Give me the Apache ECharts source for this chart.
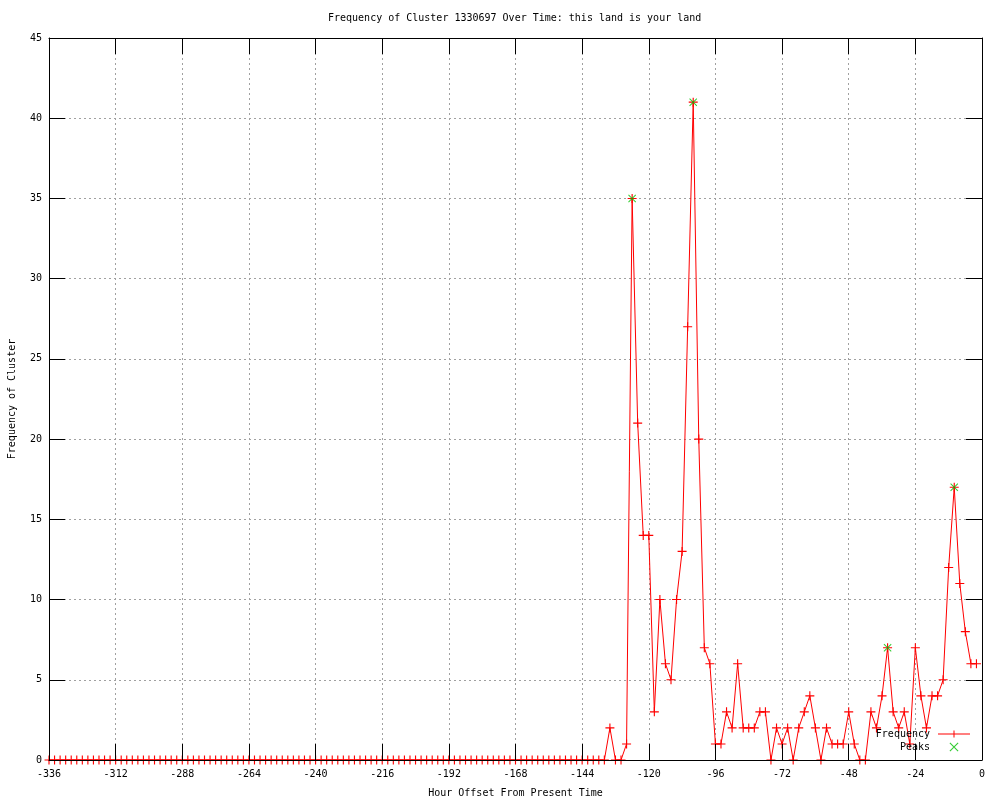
<!DOCTYPE html>
<html>
<head>
<meta charset="utf-8">
<script src="https://cdn.jsdelivr.net/npm/echarts@6/dist/echarts.min.js"></script>
<style>html,body{margin:0;padding:0;background:#fff}#c{width:1000px;height:800px}</style>
</head>
<body>
<div id="c"></div>
<script>
const hours = [-336,-334,-332,-330,-328,-326,-324,-322,-320,-318,-316,-314,-312,-310,-308,-306,-304,-302,-300,-298,-296,-294,-292,-290,-288,-286,-284,-282,-280,-278,-276,-274,-272,-270,-268,-266,-264,-262,-260,-258,-256,-254,-252,-250,-248,-246,-244,-242,-240,-238,-236,-234,-232,-230,-228,-226,-224,-222,-220,-218,-216,-214,-212,-210,-208,-206,-204,-202,-200,-198,-196,-194,-192,-190,-188,-186,-184,-182,-180,-178,-176,-174,-172,-170,-168,-166,-164,-162,-160,-158,-156,-154,-152,-150,-148,-146,-144,-142,-140,-138,-136,-134,-132,-130,-128,-126,-124,-122,-120,-118,-116,-114,-112,-110,-108,-106,-104,-102,-100,-98,-96,-94,-92,-90,-88,-86,-84,-82,-80,-78,-76,-74,-72,-70,-68,-66,-64,-62,-60,-58,-56,-54,-52,-50,-48,-46,-44,-42,-40,-38,-36,-34,-32,-30,-28,-26,-24,-22,-20,-18,-16,-14,-12,-10,-8,-6,-4,-2];
const frequency = [0,0,0,0,0,0,0,0,0,0,0,0,0,0,0,0,0,0,0,0,0,0,0,0,0,0,0,0,0,0,0,0,0,0,0,0,0,0,0,0,0,0,0,0,0,0,0,0,0,0,0,0,0,0,0,0,0,0,0,0,0,0,0,0,0,0,0,0,0,0,0,0,0,0,0,0,0,0,0,0,0,0,0,0,0,0,0,0,0,0,0,0,0,0,0,0,0,0,0,0,0,
2,0,0,1,35,21,14,14,3,10,6,5,10,13,27,41,20,7,6,1,1,3,2,6,2,2,2,3,3,0,2,1,2,0,2,3,4,2,0,2,1,1,1,3,1,0,0,3,2,4,7,3,2,3,1,7,4,2,4,4,5,12,17,11,8,6,6];
const peakHours = [-126,-104,-34,-10];
const peakValues = [35,41,7,17];
const xTicks = {min:-336, max:0, interval:24};
const yTicks = {min:0, max:45, interval:5};

const FONT = 'DejaVu Sans Mono';
const plusPath = 'path://M0,3.5H8V4.5H0Z M3.5,0H4.5V8H3.5Z';
const xPath = 'path://M0,0.7L0.7,0L8,7.3L7.3,8Z M7.3,0L8,0.7L0.7,8L0,7.3Z';
const legendLinePath = 'path://M0,4H32V5H0Z M15.5,1H16.5V8H15.5Z';

const freqData = hours.map((h,i)=>[h, frequency[i]]);
const peakData = peakHours.map((h,i)=>[h, peakValues[i]]);

const chart = echarts.init(document.getElementById('c'), null, {renderer:'canvas'});
const dash = {color:'#a0a0a0', type:[2,3], width:1};
const line = {show:true, onZero:false, lineStyle:{color:'#000', width:1}};
const tick = {show:true, inside:true, length:16, lineStyle:{color:'#000'}};
chart.setOption({
  animation:false,
  backgroundColor:'#fff',
  textStyle:{fontFamily:FONT, color:'#000'},
  title:{
    text:'Frequency of Cluster 1330697 Over Time: this land is your land',
    left:323, top:8,
    textStyle:{fontFamily:FONT, fontSize:10, fontWeight:'normal', color:'#000'}
  },
  legend:{
    orient:'vertical', right:30, top:729, padding:0, itemGap:3,
    align:'right', itemWidth:32, itemHeight:9,
    textStyle:{fontFamily:FONT, fontSize:10, color:'#000', padding:[0,3,0,0]},
    data:[{name:'Frequency', icon:legendLinePath, itemStyle:{color:'#ff0000'}},
          {name:'Peaks', icon:xPath, itemStyle:{color:'#00c000'}}]
  },
  grid:{left:49, right:18, top:38, bottom:40, containLabel:false, outerBoundsMode:'none'},
  xAxis:[
    {type:'value', position:'bottom', min:xTicks.min, max:xTicks.max, interval:xTicks.interval, z:5,
     name:'Hour Offset From Present Time', nameLocation:'middle', nameGap:28,
     nameTextStyle:{fontFamily:FONT, fontSize:10, color:'#000'},
     axisLine:line, axisTick:tick,
     axisLabel:{show:true, fontFamily:FONT, fontSize:10, color:'#000', margin:9},
     splitLine:{show:false}},
    {type:'value', position:'top', min:xTicks.min, max:xTicks.max, interval:xTicks.interval,
     axisLine:line, axisTick:tick,
     axisLabel:{show:false},
     splitLine:{show:true, lineStyle:dash}}
  ],
  yAxis:[
    {type:'value', position:'left', min:yTicks.min, max:yTicks.max, interval:yTicks.interval,
     name:'Frequency of Cluster', nameLocation:'middle', nameGap:32, nameRotate:90,
     nameTextStyle:{fontFamily:FONT, fontSize:10, color:'#000'},
     axisLine:line, axisTick:tick,
     axisLabel:{show:true, fontFamily:FONT, fontSize:10, color:'#000', margin:7},
     splitLine:{show:true, lineStyle:dash}},
    {type:'value', position:'right', min:yTicks.min, max:yTicks.max, interval:yTicks.interval,
     axisLine:line, axisTick:tick,
     axisLabel:{show:false},
     splitLine:{show:false}}
  ],
  series:[
    {name:'Frequency', type:'line', xAxisIndex:0, yAxisIndex:0, data:freqData,
     symbol:plusPath, symbolSize:9, showAllSymbol:true, clip:false,
     lineStyle:{color:'#ff0000', width:1},
     itemStyle:{color:'#ff0000'}, emphasis:{disabled:true}},
    {name:'Peaks', type:'scatter', xAxisIndex:0, yAxisIndex:0, data:peakData,
     symbol:xPath, symbolSize:8, clip:false,
     itemStyle:{color:'#00c000'}, emphasis:{disabled:true}, z:3}
  ]
});
</script>
</body>
</html>
